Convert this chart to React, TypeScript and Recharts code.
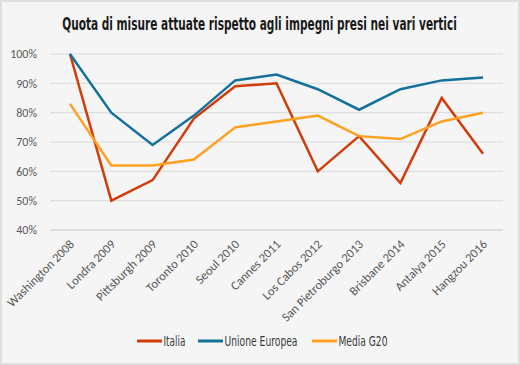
import { useLayoutEffect, useRef, useState } from 'react';
import { LineChart, Line, XAxis, YAxis, CartesianGrid } from 'recharts';

const vertici = [
  'Washington 2008',
  'Londra 2009',
  'Pittsburgh 2009',
  'Toronto 2010',
  'Seoul 2010',
  'Cannes 2011',
  'Los Cabos 2012',
  'San Pietroburgo 2013',
  'Brisbane 2014',
  'Antalya 2015',
  'Hangzou 2016',
];

const italia = [100, 50, 57, 78, 89, 90, 60, 72, 56, 85, 66];
const unioneEuropea = [100, 80, 69, 79, 91, 93, 88, 81, 88, 91, 92];
const mediaG20 = [83, 62, 62, 64, 75, 77, 79, 72, 71, 77, 80];

const yTicks = [40, 50, 60, 70, 80, 90, 100];

const SERIES = [
  { key: 'italia', label: 'Italia', color: '#d13c08' },
  { key: 'ue', label: 'Unione Europea', color: '#14719b' },
  { key: 'g20', label: 'Media G20', color: '#ffa020' },
];

// legend layout: where each swatch starts and how wide its label is drawn
const LEGEND_X = [137, 198, 312];
const LEGEND_TEXT_W = [22, 73, 49];

const data = vertici.map((name, i) => ({
  name,
  italia: italia[i],
  ue: unioneEuropea[i],
  g20: mediaG20[i],
}));

const TICK_FONT = "Carlito, Lato, 'Open Sans', sans-serif";
const NARROW_FONT = "'Liberation Sans Narrow', 'DejaVu Sans Condensed', sans-serif";

// squeezes a text horizontally to a given width (the original uses a condensed face)
function FitText({
  x,
  y,
  width,
  anchor = 'start',
  children,
  ...rest
}: {
  x: number;
  y: number;
  width: number;
  anchor?: 'start' | 'middle' | 'end';
  children: string;
  [k: string]: unknown;
}) {
  const ref = useRef<SVGTextElement>(null);
  const [sx, setSx] = useState(1);
  useLayoutEffect(() => {
    const len = ref.current?.getComputedTextLength() ?? 0;
    if (len > 0) setSx(width / len);
  }, [width, children]);
  return (
    <text ref={ref} transform={`translate(${x},${y}) scale(${sx},1)`} textAnchor={anchor} {...rest}>
      {children}
    </text>
  );
}

function VerticeTick({ x, y, payload }: { x?: number; y?: number; payload?: { value: string } }) {
  return (
    <g transform={`translate(${(x ?? 0) + 5},${(y ?? 0) + 7})`}>
      <text x={0} y={0} textAnchor="end" transform="rotate(-45)" fill="#595959" fontSize={12.5} fontFamily={TICK_FONT}>
        {payload?.value}
      </text>
    </g>
  );
}

export default function App() {
  return (
    <div
      style={{
        position: 'absolute',
        left: 0,
        top: 0,
        width: 520,
        height: 365,
        background: '#f5f5f5',
        boxShadow: 'inset 0 0 0 2px #dedede',
      }}
    >
      <LineChart
        width={520}
        height={365}
        data={data}
        margin={{ top: 54, right: 17, bottom: 35, left: 0 }}
        style={{ position: 'absolute', left: 0, top: 0 }}
      >
        <CartesianGrid vertical={false} stroke="#d9d9d9" strokeWidth={1} />
        <XAxis
          dataKey="name"
          interval={0}
          height={100}
          padding={{ left: 20, right: 20 }}
          axisLine={{ stroke: '#d4d4d4', strokeWidth: 1 }}
          tickLine={false}
          tick={<VerticeTick />}
        />
        <YAxis
          width={50}
          domain={[40, 100]}
          ticks={yTicks}
          axisLine={false}
          tickLine={false}
          tickMargin={7}
          tickFormatter={(v: number) => `${v}%`}
          tick={{ fill: '#595959', fontSize: 12, fontFamily: TICK_FONT }}
        />
        {SERIES.map((s) => (
          <Line
            key={s.key}
            type="linear"
            dataKey={s.key}
            name={s.label}
            stroke={s.color}
            strokeWidth={2.5}
            dot={false}
            isAnimationActive={false}
          />
        ))}
      </LineChart>

      <svg width={520} height={365} style={{ position: 'absolute', left: 0, top: 0, pointerEvents: 'none' }}>
        <FitText
          x={259.5}
          y={30}
          width={395}
          anchor="middle"
          fontFamily={NARROW_FONT}
          fontWeight={700}
          fontSize={18.5}
          fill="#1a1a1a"
        >
          Quota di misure attuate rispetto agli impegni presi nei vari vertici
        </FitText>

        {SERIES.map((s, i) => (
          <g key={s.key}>
            <line x1={LEGEND_X[i]} x2={LEGEND_X[i] + 25} y1={341} y2={341} stroke={s.color} strokeWidth={3} />
            <FitText
              x={LEGEND_X[i] + 26.5}
              y={346}
              width={LEGEND_TEXT_W[i]}
              fontFamily={NARROW_FONT}
              fontSize={14}
              fill="#3a3a3a"
            >
              {s.label}
            </FitText>
          </g>
        ))}
      </svg>
    </div>
  );
}
